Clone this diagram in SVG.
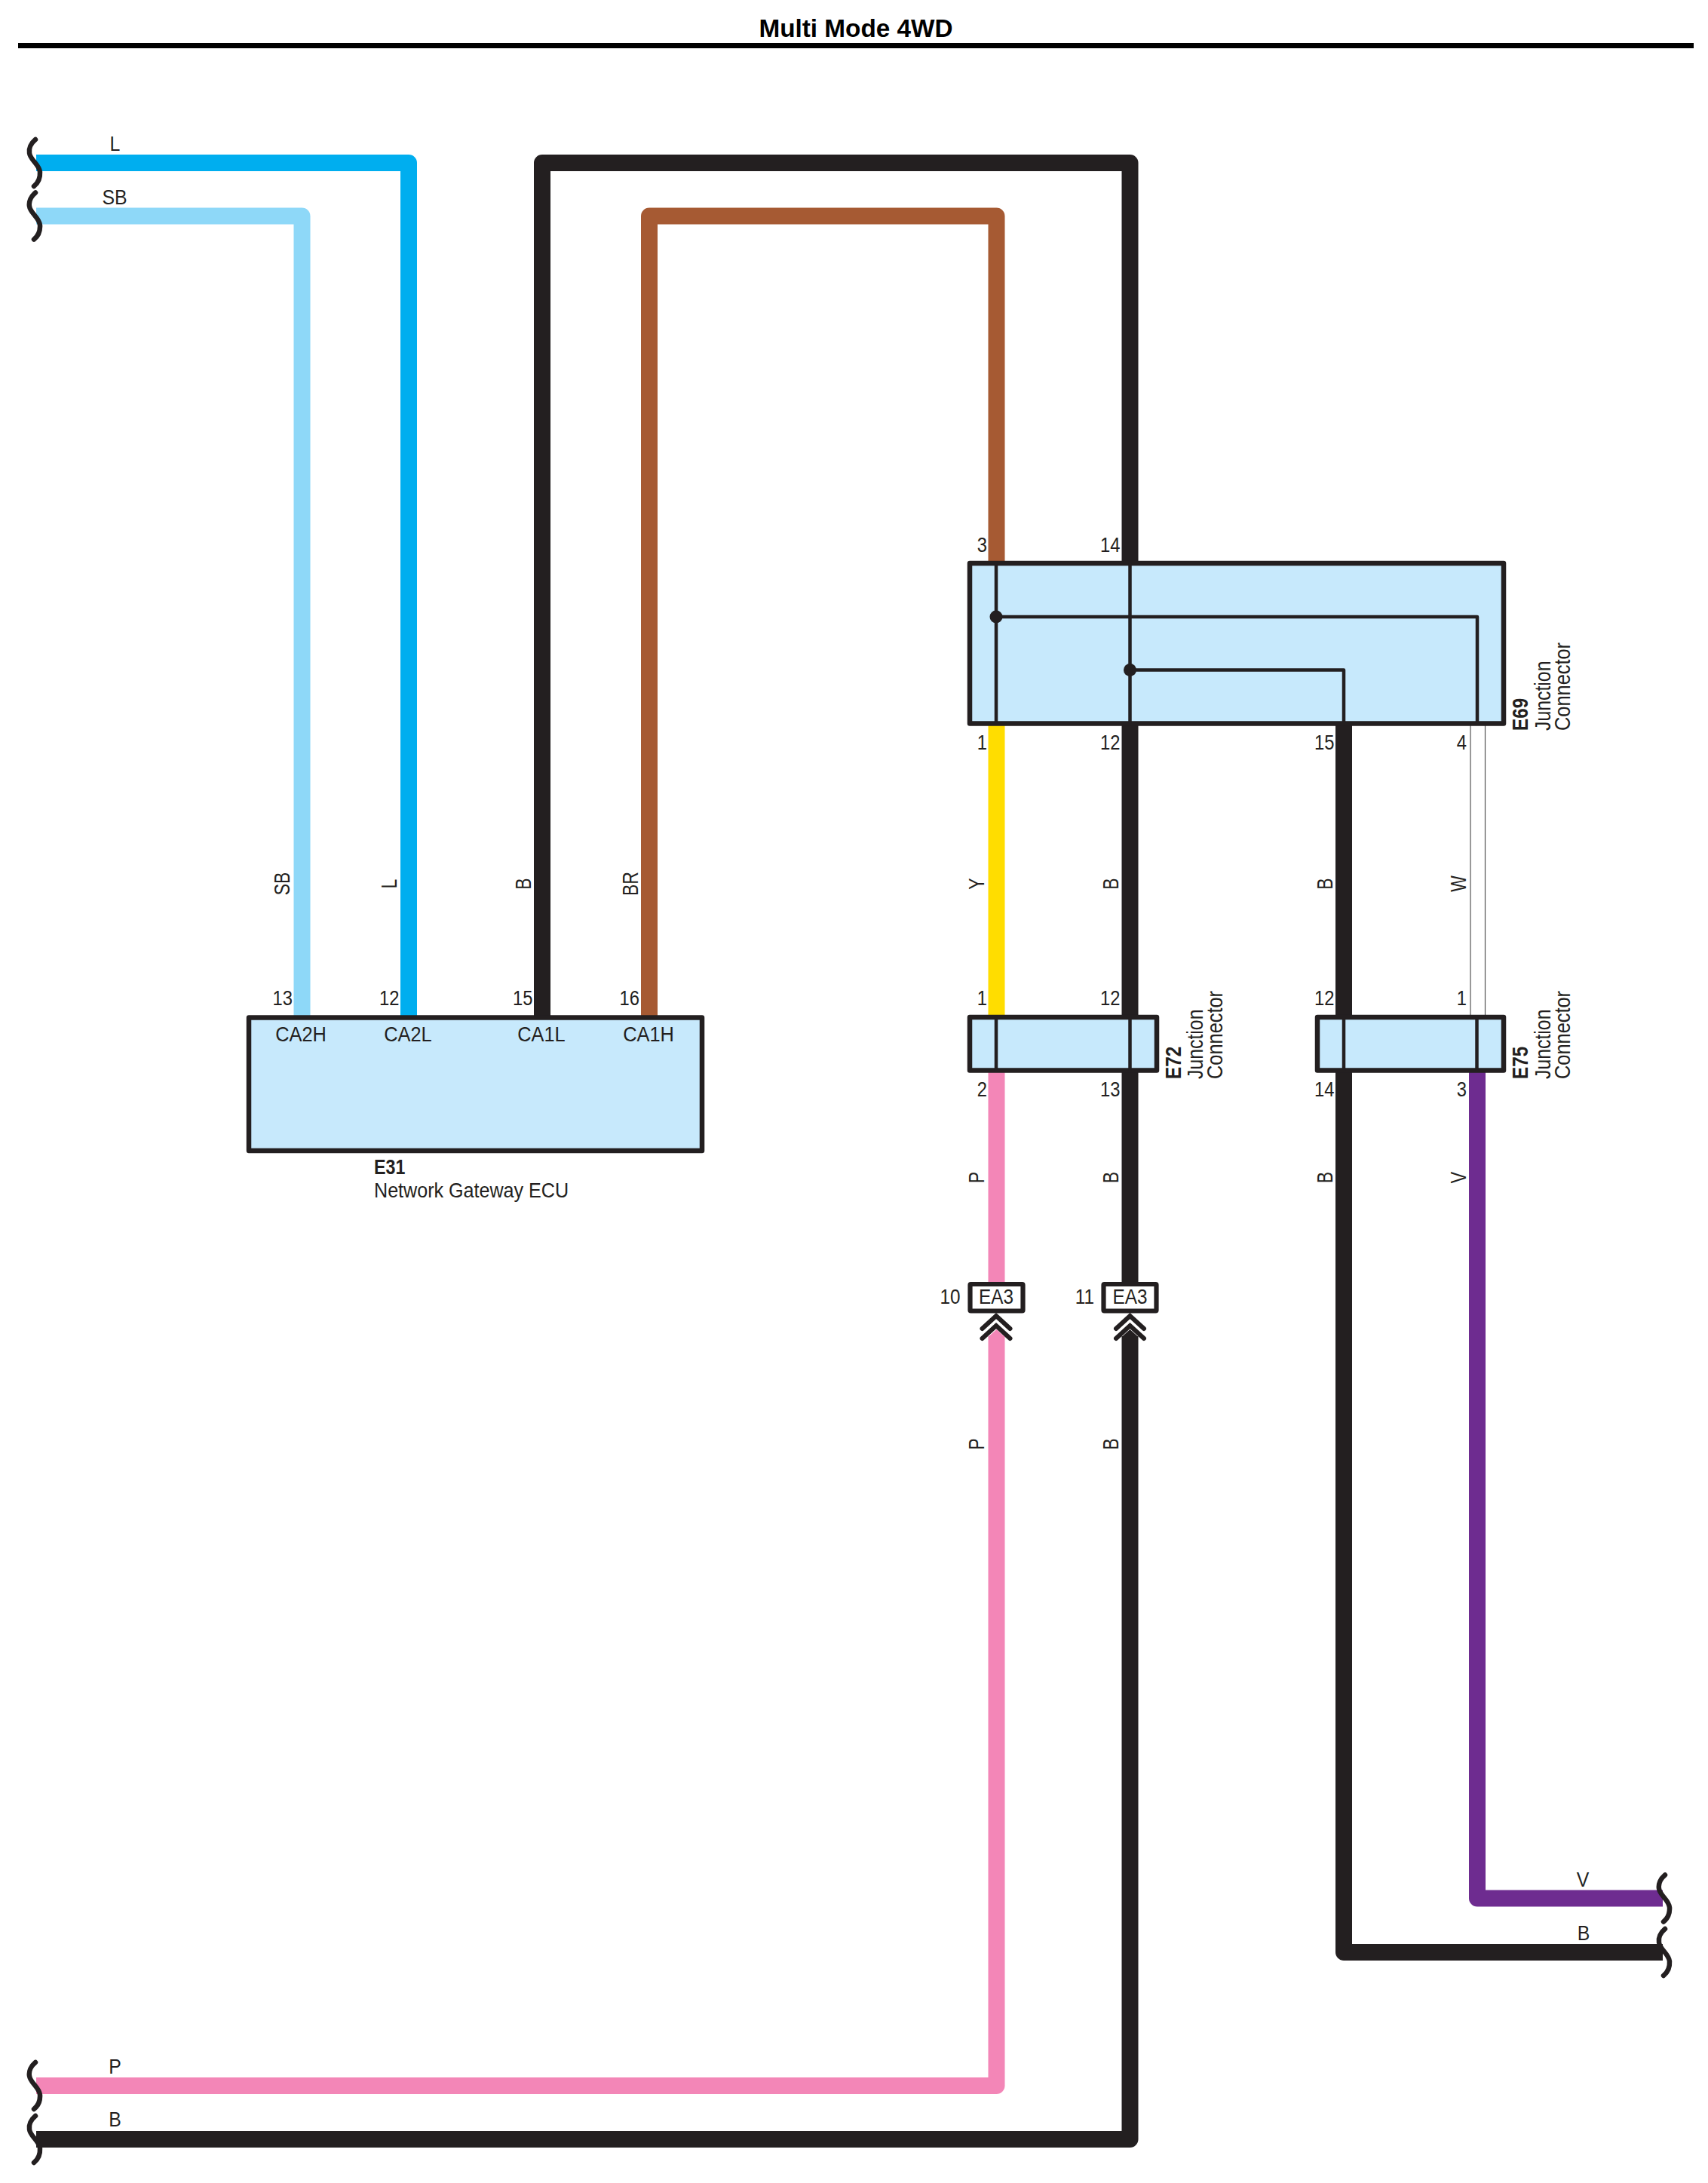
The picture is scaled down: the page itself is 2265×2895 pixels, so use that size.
<svg xmlns="http://www.w3.org/2000/svg" xmlns:xlink="http://www.w3.org/1999/xlink" width="2265" height="2895" viewBox="0 0 2265 2895">
<style>
text{font-family:"Liberation Sans",Arial,sans-serif;font-size:27px;fill:#231f20}
.m{text-anchor:middle}.e{text-anchor:end}.b{font-weight:bold}
.w{fill:none;stroke-width:22;stroke-linejoin:round}
.box{fill:#c7e9fc;stroke:#231f20;stroke-width:6.5;stroke-linejoin:round}
.in{fill:none;stroke:#231f20;stroke-width:4.5;stroke-linejoin:round}
.sq{fill:none;stroke:#231f20;stroke-width:6.5;stroke-linecap:round}
.ch{fill:none;stroke:#231f20;stroke-width:6;stroke-linecap:round;stroke-linejoin:miter}
</style>
<defs>
<path id="squig" class="sq" d="M47 -31C41 -26 38 -19 39 -13C40 -4 52 2 53 12C53.5 20 50 27 45 31"/>
<g id="chev"><path class="ch" d="M-18.5 21L0 4L18.5 21"/><path class="ch" d="M-18.5 34L0 17L18.5 34"/></g>
</defs>
<rect width="2265" height="2895" fill="#fff"/>
<g id="title">
<text class="m b" x="1135" y="49" style="font-size:33.300px;fill:#000">Multi Mode 4WD</text>
<rect x="24" y="57" width="2222" height="7" fill="#000"/>
</g>
<g id="connectors">
<path class="w" stroke="#00aeef" d="M48 216H542V1349"/>
<path class="w" stroke="#8ed8f8" d="M48 286.500H400.500V1349"/>
<path class="w" stroke="#231f20" d="M719 1349V216H1498.500V748"/>
<path class="w" stroke="#a65a33" d="M861 1349V286.500H1321.500V748"/>
<path class="w" stroke="#ffdd00" d="M1321.500 960V1349"/>
<path class="w" stroke="#231f20" d="M1498.500 960V1349"/>
<path class="w" stroke="#231f20" d="M1782 960V1349"/>
<path d="M1950 960V1349M1969.500 960V1349" fill="none" stroke="#555" stroke-width="1.200"/>
<path class="w" stroke="#f386b7" d="M1321.500 1420V1703"/>
<path class="w" stroke="#231f20" d="M1498.500 1420V1703"/>
<path class="w" stroke="#f386b7" d="M1321.500 1772V2766H48"/>
<path d="M1310.500 1773L1321.500 1763L1332.500 1773Z" fill="#f386b7"/>
<path class="w" stroke="#231f20" d="M1498.500 1772V2837H48"/>
<path d="M1487.500 1773L1498.500 1763L1509.500 1773Z" fill="#231f20"/>
<path class="w" stroke="#231f20" d="M1782 1420V2589H2205"/>
<path class="w" stroke="#6e2c90" d="M1959 1420V2517.500H2205"/>
</g>
<g id="breaks">
<use href="#squig" x="0" y="216"/>
<use href="#squig" x="0" y="286.500"/>
<use href="#squig" x="0" y="2766"/>
<use href="#squig" x="0" y="2837"/>
<use href="#squig" x="2161" y="2517.500"/>
<use href="#squig" x="2161" y="2589"/>
</g>
<g id="wire-labels">
<text class="m" transform="translate(152.500 200) scale(.92 1)">L</text>
<text class="m" transform="translate(152 270.500) scale(.92 1)">SB</text>
<text class="m" transform="translate(152.500 2750) scale(.92 1)">P</text>
<text class="m" transform="translate(152.500 2820) scale(.92 1)">B</text>
<text class="m" transform="translate(2099 2502) scale(.92 1)">V</text>
<text class="m" transform="translate(2100 2573) scale(.92 1)">B</text>
<text class="m" transform="translate(384 1172) rotate(-90) scale(.85 1.06)">SB</text>
<text class="m" transform="translate(526 1172) rotate(-90) scale(.85 1.06)">L</text>
<text class="m" transform="translate(703.500 1172) rotate(-90) scale(.85 1.06)">B</text>
<text class="m" transform="translate(845.500 1172) rotate(-90) scale(.85 1.06)">BR</text>
<text class="m" transform="translate(1304.500 1172) rotate(-90) scale(.85 1.06)">Y</text>
<text class="m" transform="translate(1483 1172) rotate(-90) scale(.85 1.06)">B</text>
<text class="m" transform="translate(1766.500 1172) rotate(-90) scale(.85 1.06)">B</text>
<text class="m" transform="translate(1944 1172) rotate(-90) scale(.85 1.06)">W</text>
<text class="m" transform="translate(1304.500 1561.500) rotate(-90) scale(.85 1.06)">P</text>
<text class="m" transform="translate(1483 1561.500) rotate(-90) scale(.85 1.06)">B</text>
<text class="m" transform="translate(1766.500 1561.500) rotate(-90) scale(.85 1.06)">B</text>
<text class="m" transform="translate(1944 1561.500) rotate(-90) scale(.85 1.06)">V</text>
<text class="m" transform="translate(1304.500 1915) rotate(-90) scale(.85 1.06)">P</text>
<text class="m" transform="translate(1483 1915) rotate(-90) scale(.85 1.06)">B</text>
</g>
<g id="E31">
<rect class="box" x="330" y="1349.500" width="601" height="176.500"/>
<text class="e" transform="translate(388 1333) scale(.88 1)">13</text>
<text class="e" transform="translate(529.500 1333) scale(.88 1)">12</text>
<text class="e" transform="translate(706.500 1333) scale(.88 1)">15</text>
<text class="e" transform="translate(848 1333) scale(.88 1)">16</text>
<text class="m" transform="translate(399 1380.500) scale(.94 1)">CA2H</text>
<text class="m" transform="translate(541 1380.500) scale(.94 1)">CA2L</text>
<text class="m" transform="translate(718 1380.500) scale(.94 1)">CA1L</text>
<text class="m" transform="translate(860 1380.500) scale(.94 1)">CA1H</text>
<text class="b" transform="translate(496 1557) scale(.86 1)">E31</text>
<text transform="translate(496 1587.500) scale(.93 1)">Network Gateway ECU</text>
</g>
<g id="E69">
<rect class="box" x="1286" y="747" width="708" height="212.500"/>
<path class="in" d="M1321 747V959M1498.500 747V959M1321 818H1959V959M1498.500 888.500H1782V959"/>
<circle cx="1321" cy="818" r="8.500" fill="#231f20"/>
<circle cx="1498.500" cy="888.500" r="8.500" fill="#231f20"/>
<text class="e" transform="translate(1309 731.500) scale(.88 1)">3</text>
<text class="e" transform="translate(1485.500 731.500) scale(.88 1)">14</text>
<text class="e" transform="translate(1309 994) scale(.88 1)">1</text>
<text class="e" transform="translate(1485.500 994) scale(.88 1)">12</text>
<text class="e" transform="translate(1769.500 994) scale(.88 1)">15</text>
<text class="e" transform="translate(1945 994) scale(.88 1)">4</text>
<text class="b" transform="translate(2025.500 969) rotate(-90) scale(.9 1.06)">E69</text>
<text transform="translate(2056 969) rotate(-90) scale(.92 1.06)">Junction</text>
<text transform="translate(2082 969) rotate(-90) scale(.94 1.06)">Connector</text>
</g>
<g id="E72">
<rect class="box" x="1286" y="1349" width="248" height="70.500"/>
<path class="in" d="M1321 1349V1420M1498.500 1349V1420"/>
<text class="e" transform="translate(1309 1333) scale(.88 1)">1</text>
<text class="e" transform="translate(1485.500 1333) scale(.88 1)">12</text>
<text class="e" transform="translate(1309 1453.500) scale(.88 1)">2</text>
<text class="e" transform="translate(1485.500 1453.500) scale(.88 1)">13</text>
<text class="b" transform="translate(1566 1431) rotate(-90) scale(.9 1.06)">E72</text>
<text transform="translate(1594.500 1431) rotate(-90) scale(.92 1.06)">Junction</text>
<text transform="translate(1620.500 1431) rotate(-90) scale(.94 1.06)">Connector</text>
</g>
<g id="E75">
<rect class="box" x="1747" y="1349" width="247" height="70.500"/>
<path class="in" d="M1782 1349V1420M1958.500 1349V1420"/>
<text class="e" transform="translate(1769.500 1333) scale(.88 1)">12</text>
<text class="e" transform="translate(1945 1333) scale(.88 1)">1</text>
<text class="e" transform="translate(1769.500 1453.500) scale(.88 1)">14</text>
<text class="e" transform="translate(1945 1453.500) scale(.88 1)">3</text>
<text class="b" transform="translate(2025.500 1431) rotate(-90) scale(.9 1.06)">E75</text>
<text transform="translate(2056 1431) rotate(-90) scale(.92 1.06)">Junction</text>
<text transform="translate(2082 1431) rotate(-90) scale(.94 1.06)">Connector</text>
</g>
<g id="EA3-10">
<rect x="1286.500" y="1703" width="70" height="35.500" rx="1" fill="#fff" stroke="#231f20" stroke-width="6.200"/>
<text class="m" transform="translate(1321 1729) scale(.9 1)">EA3</text>
<text class="e" transform="translate(1273.500 1729) scale(.9 1)">10</text>
<use href="#chev" x="1321" y="1741"/>
</g>
<g id="EA3-11">
<rect x="1463.500" y="1703" width="70" height="35.500" rx="1" fill="#fff" stroke="#231f20" stroke-width="6.200"/>
<text class="m" transform="translate(1498.500 1729) scale(.9 1)">EA3</text>
<text class="e" transform="translate(1451 1729) scale(.9 1)">11</text>
<use href="#chev" x="1498.500" y="1741"/>
</g>
</svg>
